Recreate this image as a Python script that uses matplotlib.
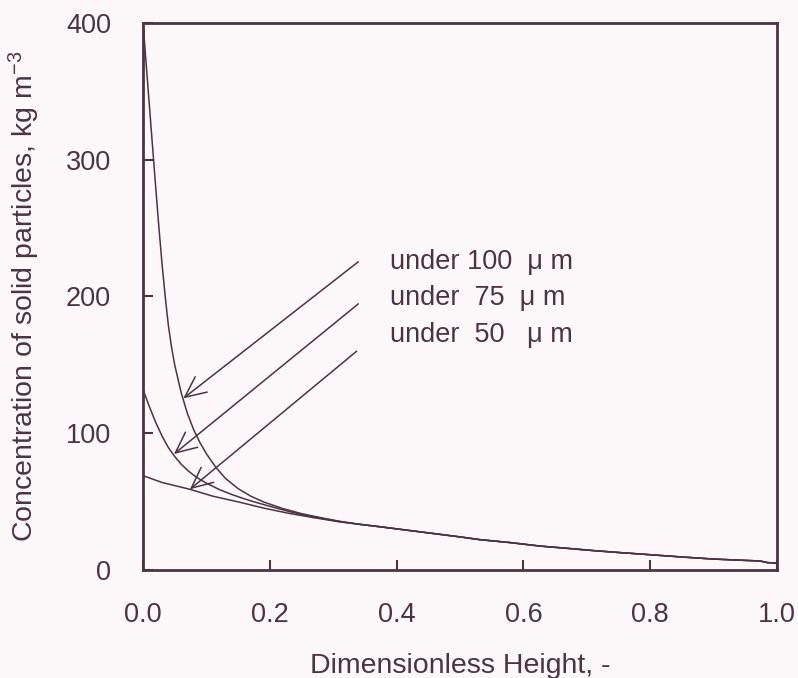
import numpy as np
from matplotlib import pyplot as plt

plt.rcParams["font.family"] = ["Liberation Sans", "DejaVu Sans"]
plt.rcParams["mathtext.fontset"] = "custom"
plt.rcParams["mathtext.rm"] = "Liberation Sans"
plt.rcParams["mathtext.it"] = "Liberation Sans:italic"

ink = "#4b3442"
bg = "#fcf8fa"

# shared tail of all three profiles (x > ~0.3)
h_tail = [0.34, 0.374, 0.437, 0.50, 0.531, 0.58, 0.626, 0.67, 0.71, 0.75,
          0.784, 0.82, 0.86, 0.90, 0.94, 0.973, 0.985, 1.0]
c_tail = [33.5, 31.6, 27.9, 24.2, 22.2, 20.0, 17.5, 15.8, 14.2, 12.8,
          11.7, 10.5, 9.2, 8.0, 7.2, 6.6, 5.4, 5.0]

h_100 = [0.0, 0.005, 0.01, 0.015, 0.02, 0.025, 0.03, 0.035, 0.04, 0.045,
         0.05, 0.06, 0.07, 0.08, 0.09, 0.10, 0.115, 0.13, 0.15, 0.17,
         0.19, 0.22, 0.25, 0.28, 0.31]
c_100 = [400, 370, 340, 310, 280, 251, 224, 200, 179, 163,
         150, 130, 114.5, 102.5, 93, 85, 75, 67, 59.5, 54,
         49.8, 45, 41.2, 38.3, 35.6]

h_75 = [0.0, 0.01, 0.02, 0.03, 0.04, 0.05, 0.06, 0.07, 0.08, 0.09,
        0.10, 0.12, 0.14, 0.16, 0.18, 0.20, 0.23, 0.26, 0.31]
c_75 = [132, 119.5, 108, 98, 89.5, 83, 77.5, 73, 69.3, 66.2,
        63.5, 58.9, 55.2, 52, 49.2, 46.6, 42.8, 39.6, 35.5]

h_50 = [0.0, 0.03, 0.074, 0.11, 0.153, 0.19, 0.227, 0.27, 0.31]
c_50 = [69, 64, 59, 54, 49.5, 45.3, 41.7, 38.2, 35.2]

labels = ["under 100  \u03bc m", "under  75  \u03bc m", "under  50   \u03bc m"]
label_y = [225, 199, 172]
arrow_start = [(0.3396, 225.4), (0.3396, 194.6), (0.337, 160.0)]
arrow_tip = [(0.0636, 125.5), (0.0489, 84.8), (0.074, 59.0)]

fig = plt.figure(figsize=(7.98, 6.78), dpi=100, facecolor=bg)
ax = fig.add_axes([0.1792, 0.1593, 0.7945, 0.8068], facecolor=bg)

for h, c in [(h_100, c_100), (h_75, c_75), (h_50, c_50)]:
    ax.plot(np.r_[h, h_tail], np.r_[c, c_tail], color=ink, lw=1.1)

for (x0, y0), (x1, y1) in zip(arrow_start, arrow_tip):
    ax.annotate("", xy=(x1, y1), xytext=(x0, y0),
                arrowprops=dict(arrowstyle="->,head_length=1.5,head_width=0.7",
                                color=ink, lw=1.1, mutation_scale=10,
                                shrinkA=0, shrinkB=0))

for txt, y in zip(labels, label_y):
    ax.text(0.39, y, txt, fontsize=19.5, color=ink, va="center", ha="left")

ax.set_xlim(0, 1.0)
ax.set_ylim(0, 400)
ax.set_xticks([0, 0.2, 0.4, 0.6, 0.8, 1.0])
ax.set_xticklabels(["0.0", "0.2", "0.4", "0.6", "0.8", "1.0"])
ax.set_yticks([0, 100, 200, 300, 400])
ax.tick_params(direction="in", length=7, width=1.5, pad=23,
               labelsize=19.5, colors=ink)
for s in ax.spines.values():
    s.set_linewidth(2.0)
    s.set_color(ink)

ax.set_xlabel("Dimensionless Height, -", fontsize=20.5, color=ink)
ax.set_ylabel(r"Concentration of solid particles, kg m$^{\mathregular{-3}}$",
              fontsize=20.5, color=ink)
ax.xaxis.set_label_coords(0.5, -0.152)
ax.yaxis.set_label_coords(-0.16, 0.5)

plt.savefig("out.png", dpi=100, facecolor=bg)
plt.close()
